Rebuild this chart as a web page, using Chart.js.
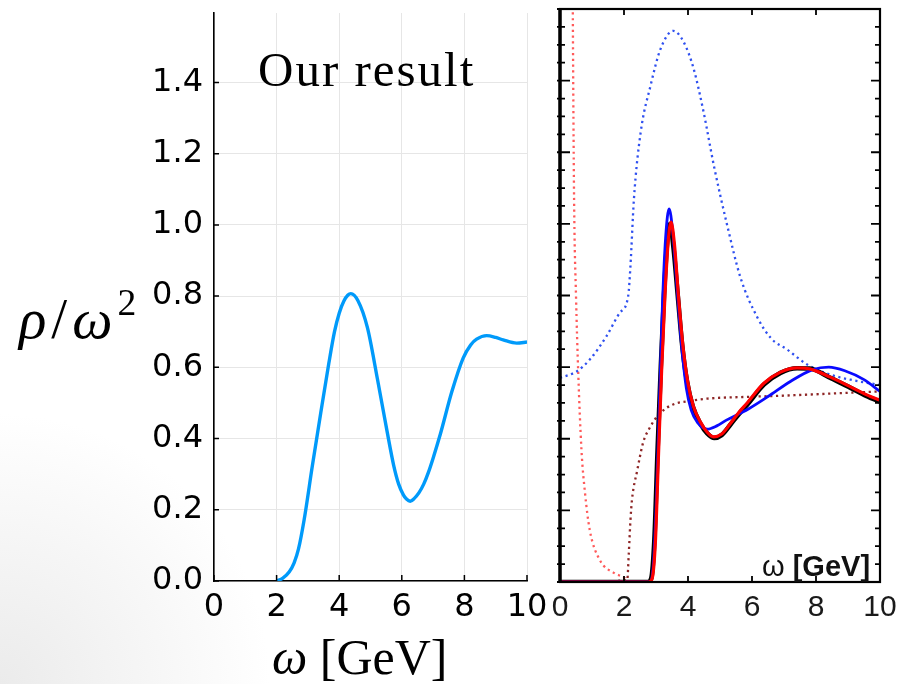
<!DOCTYPE html>
<html>
<head>
<meta charset="utf-8">
<title>Spectral function</title>
<script src="https://cdn.jsdelivr.net/npm/chart.js@4.4.0/dist/chart.umd.min.js"></script>
<style>
  html, body { margin: 0; padding: 0; }
  body {
    width: 903px; height: 684px; position: relative; overflow: hidden;
    background: radial-gradient(circle at 0 684px, #ebebeb 0, #f6f6f6 150px, #fff 270px);
  }
  .panel { position: absolute; top: 0; height: 684px; }
  #leftPanel { left: 0; width: 550px; }
  #rightPanel { left: 540px; width: 363px; filter: blur(0.5px); }
  .txt { position: absolute; white-space: nowrap; color: #000; line-height: 1; }
  #ourResult { left: 258px; top: 41px; font: 49px "Liberation Serif", serif; letter-spacing: 2px; }
  #yTitle { left: 19px; top: 280px; font: 57px "Liberation Serif", serif; letter-spacing: 5px; }
  #yTitle sup { font-size: 0.66em; vertical-align: 0.62em; font-style: normal; }
  #xTitle { left: 272px; top: 628px; font: 50px "Liberation Serif", serif; }
  #wLabel { left: 222px; top: 550px; font: bold 29px "Liberation Sans", Arial, sans-serif; color: #111; }
  #wLabel span { font-weight: normal; }
</style>
</head>
<body>

<div id="leftPanel" class="panel">
  <canvas id="chart1" width="550" height="684"></canvas>
  <div id="ourResult" class="txt">Our result</div>
  <div id="yTitle" class="txt"><i>ρ</i>/<i>ω</i><sup>2</sup></div>
  <div id="xTitle" class="txt"><i>ω</i> [GeV]</div>
</div>

<div id="rightPanel" class="panel">
  <canvas id="chart2" width="363" height="684"></canvas>
  <div id="wLabel" class="txt"><span>ω</span> [GeV]</div>
</div>

<script>
// our result: rho / omega^2 vs omega [GeV]
const oursOmega = [2.0, 2.2, 2.4, 2.56, 2.7, 2.88, 3.14, 3.41, 3.67, 3.85, 4.0, 4.15, 4.28, 4.37, 4.6, 4.9, 5.22, 5.53, 5.74, 5.9, 6.05, 6.15, 6.27, 6.4, 6.55, 6.7, 6.85, 7.0, 7.23, 7.6, 7.96, 8.2, 8.39, 8.71, 9.0, 9.24, 9.67, 10.0];
const oursRho = [0, 0.008, 0.025, 0.051, 0.09, 0.172, 0.322, 0.472, 0.612, 0.70, 0.752, 0.786, 0.803, 0.807, 0.787, 0.712, 0.568, 0.42, 0.325, 0.272, 0.242, 0.23, 0.224, 0.232, 0.248, 0.272, 0.305, 0.345, 0.412, 0.532, 0.626, 0.663, 0.679, 0.689, 0.684, 0.677, 0.668, 0.671];

// comparison panel (solid and dotted curves)
const blackOmega = [0, 2.75, 2.85, 2.95, 3.05, 3.15, 3.25, 3.35, 3.44, 3.55, 3.68, 3.82, 3.97, 4.15, 4.4, 4.6, 4.82, 5.05, 5.33, 5.6, 5.85, 6.37, 6.89, 7.41, 7.8, 8.45, 9.08, 9.7, 10];
const blackRho = [0, 0, 0.01, 0.12, 0.37, 0.6, 0.8, 0.95, 1.0, 0.93, 0.8, 0.66, 0.56, 0.49, 0.44, 0.415, 0.402, 0.41, 0.44, 0.47, 0.495, 0.551, 0.584, 0.597, 0.596, 0.570, 0.542, 0.514, 0.504];
const redOmega = [0, 2.78, 2.88, 2.98, 3.08, 3.18, 3.28, 3.38, 3.47, 3.58, 3.7, 3.84, 3.99, 4.17, 4.4, 4.6, 4.8, 5.05, 5.33, 5.6, 5.85, 6.37, 6.89, 7.41, 7.8, 8.45, 9.08, 9.7, 10];
const redRho = [0, 0, 0.01, 0.11, 0.36, 0.6, 0.8, 0.95, 1.005, 0.94, 0.8, 0.66, 0.56, 0.49, 0.445, 0.418, 0.405, 0.413, 0.443, 0.475, 0.5, 0.555, 0.586, 0.598, 0.595, 0.572, 0.545, 0.518, 0.508];
const blueOmega = [0, 2.8, 2.9, 3.0, 3.1, 3.2, 3.3, 3.41, 3.52, 3.65, 3.8, 3.95, 4.1, 4.3, 4.6, 4.9, 5.2, 5.6, 5.9, 6.5, 7.2, 7.9, 8.4, 8.9, 9.5, 10];
const blueRho = [0, 0, 0.03, 0.2, 0.48, 0.77, 0.96, 1.042, 0.98, 0.83, 0.66, 0.54, 0.48, 0.445, 0.427, 0.436, 0.452, 0.47, 0.484, 0.518, 0.56, 0.593, 0.6, 0.59, 0.565, 0.532];
const blueDotOmega = [0, 0.52, 0.93, 1.45, 1.87, 2.13, 2.2, 2.31, 2.52, 2.83, 3.14, 3.54, 3.87, 4.18, 4.49, 4.81, 5.23, 5.64, 6.16, 6.6, 7.1, 7.73, 8.45, 9.18, 10];
const blueDotRho = [0.57, 0.588, 0.621, 0.686, 0.752, 0.798, 0.88, 1.069, 1.255, 1.386, 1.488, 1.539, 1.507, 1.432, 1.311, 1.162, 0.994, 0.85, 0.74, 0.68, 0.649, 0.607, 0.579, 0.563, 0.55];
const pinkDotOmega = [0.34, 0.38, 0.4, 0.44, 0.5, 0.57, 0.67, 0.78, 0.93, 1.24, 1.71, 2.03, 2.1];
const pinkDotRho = [3.0, 2.0, 1.6, 1.07, 0.8, 0.584, 0.37, 0.25, 0.145, 0.062, 0.024, 0.01, 0.0];
const darkDotOmega = [0, 2.1, 2.15, 2.2, 2.25, 2.41, 2.6, 2.8, 3.03, 3.33, 3.6, 3.95, 4.6, 5.85, 6.89, 8.45, 10];
const darkDotRho = [0, 0.005, 0.08, 0.17, 0.23, 0.31, 0.39, 0.43, 0.462, 0.486, 0.498, 0.504, 0.512, 0.517, 0.52, 0.526, 0.532];

const xTickStep = 2;
const yTickStep = 0.2;
const yMinorStep = 0.05;

const toPoints = (xs, ys) => xs.map((v, i) => ({ x: v, y: ys[i] }));


// small inward tick marks on the left and bottom axes
const inwardTicks = {
  id: 'inwardTicks',
  afterDraw(chart) {
    const { ctx, chartArea: a, scales: { x, y } } = chart;
    ctx.save();
    ctx.strokeStyle = '#000';
    ctx.lineWidth = 1.5;
    ctx.beginPath();
    y.ticks.forEach(t => {
      const p = y.getPixelForValue(t.value);
      ctx.moveTo(a.left, p);
      ctx.lineTo(a.left + 5, p);
    });
    x.ticks.forEach(t => {
      const p = x.getPixelForValue(t.value);
      ctx.moveTo(p, a.bottom);
      ctx.lineTo(p, a.bottom - 6);
    });
    ctx.stroke();
    ctx.restore();
  }
};

// closed box with major / minor ticks for the second panel
const boxFrame = {
  id: 'boxFrame',
  afterDatasetsDraw(chart) {
    const { ctx, chartArea: a, scales: { x, y } } = chart;
    ctx.save();
    ctx.strokeStyle = '#000';
    ctx.lineWidth = 2.2;
    ctx.strokeRect(a.left, a.top, a.right - a.left, a.bottom - a.top);
    ctx.lineWidth = 3.5;
    ctx.beginPath();
    ctx.moveTo(a.left, a.top);
    ctx.lineTo(a.left, a.bottom);
    ctx.stroke();

    ctx.lineWidth = 1.8;
    ctx.beginPath();
    const n = Math.round(y.max / yMinorStep);
    for (let i = 0; i <= n; i++) {
      const p = y.getPixelForValue(i * yMinorStep);
      const major = i % Math.round(yTickStep / yMinorStep) === 0;
      ctx.moveTo(a.left - 3, p);
      ctx.lineTo(a.left + (major ? 10 : 5), p);
      ctx.moveTo(a.right, p);
      ctx.lineTo(a.right - (major ? 9 : 5), p);
    }
    x.ticks.forEach(t => {
      if (t.value <= x.min || t.value >= x.max) return;
      const p = x.getPixelForValue(t.value);
      ctx.moveTo(p, a.top);
      ctx.lineTo(p, a.top + 6);
      ctx.moveTo(p, a.bottom);
      ctx.lineTo(p, a.bottom - 6);
    });
    ctx.stroke();
    ctx.restore();
  }
};


const ctx1 = document.getElementById('chart1').getContext('2d');
const ctx2 = document.getElementById('chart2').getContext('2d');

new Chart(ctx1, {
  type: 'line',
  data: {
    datasets: [
      {
        label: 'Our result',
        data: toPoints(oursOmega, oursRho),
        borderColor: '#009AFA',
        borderWidth: 3.4,
        pointRadius: 0,
        cubicInterpolationMode: 'monotone',
        fill: false
      }
    ]
  },
  options: {
    responsive: false,
    animation: false,
    layout: { padding: { left: 0, right: 23, top: 13, bottom: 0 } },
    plugins: { legend: { display: false }, tooltip: { enabled: false } },
    scales: {
      x: {
        type: 'linear',
        min: 0,
        max: 10,
        ticks: {
          stepSize: xTickStep,
          color: '#000',
          padding: 7,
          maxRotation: 0,
          font: { family: 'DejaVu Sans', size: 32 }
        },
        grid: { color: '#e6e6e6', lineWidth: 1, drawTicks: false },
        border: { color: '#000', width: 1.6 },
        afterFit(scale) {
          scale.height = 103;
          scale.paddingLeft = 0;
          scale.paddingRight = 0;
        }
      },
      y: {
        type: 'linear',
        min: 0,
        max: 1.595,
        ticks: {
          stepSize: yTickStep,
          includeBounds: false,
          color: '#000',
          padding: 11,
          font: { family: 'DejaVu Sans', size: 32 },
          callback: v => v.toFixed(1)
        },
        grid: { color: '#e6e6e6', lineWidth: 1, drawTicks: false },
        border: { color: '#000', width: 1.6 },
        afterFit(scale) {
          scale.width = 214;
          scale.paddingTop = 0;
          scale.paddingBottom = 0;
        }
      }
    }
  },
  plugins: [inwardTicks]
});

const dotted = [2.2, 3.6];

new Chart(ctx2, {
  type: 'line',
  data: {
    datasets: [
      { label: 'red', data: toPoints(redOmega, redRho), borderColor: '#ff0000', borderWidth: 3.2, order: 0 },
      { label: 'blue', data: toPoints(blueOmega, blueRho), borderColor: '#0a0aff', borderWidth: 2.8, order: 1 },
      { label: 'black', data: toPoints(blackOmega, blackRho), borderColor: '#000', borderWidth: 4.6, order: 2 },
      { label: 'blue dotted', data: toPoints(blueDotOmega, blueDotRho), borderColor: '#2f50f0', borderWidth: 2.3, borderDash: dotted, order: 3 },
      { label: 'red dotted', data: toPoints(pinkDotOmega, pinkDotRho), borderColor: '#ff5a5a', borderWidth: 2.3, borderDash: dotted, order: 4 },
      { label: 'dark dotted', data: toPoints(darkDotOmega, darkDotRho), borderColor: '#8e2626', borderWidth: 2.3, borderDash: dotted, order: 5 }
    ].map(d => ({ ...d, pointRadius: 0, cubicInterpolationMode: 'monotone', fill: false }))
  },
  options: {
    responsive: false,
    animation: false,
    layout: { padding: { left: 20, right: 23, top: 9, bottom: 0 } },
    plugins: { legend: { display: false }, tooltip: { enabled: false } },
    scales: {
      x: {
        type: 'linear',
        min: 0,
        max: 10,
        ticks: {
          stepSize: xTickStep,
          color: '#1a1a1a',
          padding: 8,
          maxRotation: 0,
          font: { family: 'Liberation Sans', size: 30 }
        },
        grid: { display: false, drawTicks: false },
        border: { display: false },
        afterFit(scale) {
          scale.height = 102;
          scale.paddingLeft = 0;
          scale.paddingRight = 0;
        }
      },
      y: {
        type: 'linear',
        display: false,
        min: 0,
        max: 1.6
      }
    }
  },
  plugins: [boxFrame]
});
</script>
</body>
</html>
